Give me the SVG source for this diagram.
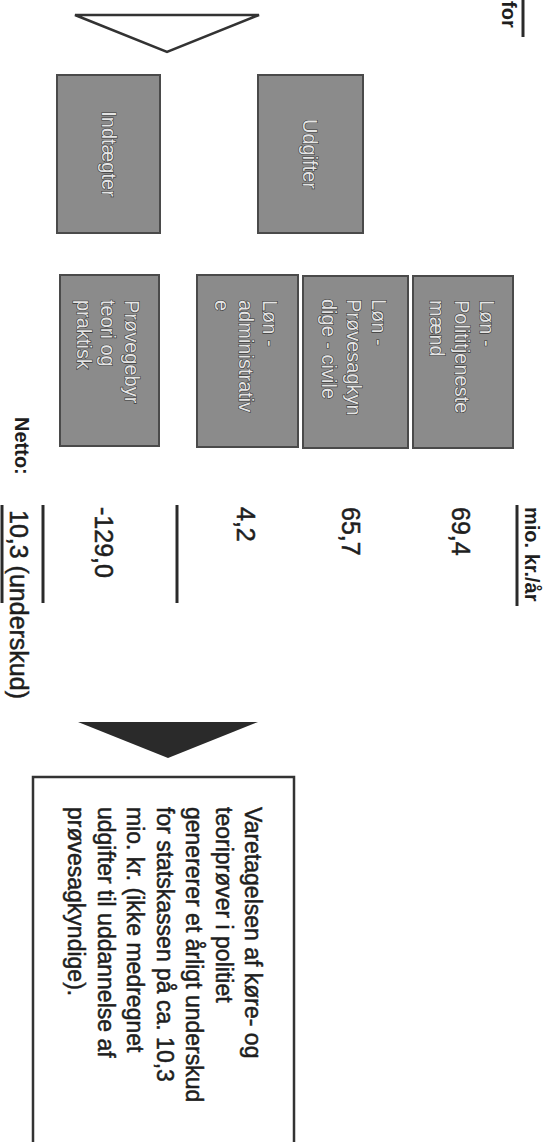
<svg xmlns="http://www.w3.org/2000/svg" width="550" height="1142" viewBox="0 0 550 1142">
<style>
  .box { fill: #8b8b8b; stroke: #4a4a4a; stroke-width: 2; }
  .bt { font-family: "Liberation Sans", Arial, sans-serif; font-size: 20px; fill: #e4e4e4; stroke: #3a3a3a; stroke-width: 1.2; paint-order: stroke; }
  .num { font-family: "Liberation Sans", Arial, sans-serif; font-size: 25px; fill: #1e1e1e; stroke: #1e1e1e; stroke-width: 0.5; }
  .lbl { font-family: "Liberation Sans", Arial, sans-serif; font-size: 20px; font-weight: bold; fill: #1e1e1e; }
  .note { font-family: "Liberation Sans", Arial, sans-serif; font-size: 23px; fill: #1e1e1e; stroke: #1e1e1e; stroke-width: 0.5; }
  .rule { stroke: #2a2a2a; stroke-width: 3; fill: none; }
</style>
<rect width="550" height="1142" fill="#ffffff"/>

<g id="header">
  <text class="lbl" font-size="18" transform="translate(502,1) rotate(90)">for</text>
  <line class="rule" x1="523" y1="0" x2="523" y2="37"/>
</g>

<g id="connectors">
  <polygon points="75,15 259,15 167,52" fill="#ffffff" stroke="#333333" stroke-width="2.5" stroke-linejoin="miter"/>
  <polygon points="78,722 258,722 168,758" fill="#2a2a2a"/>
</g>

<g id="node-indtaegter">
  <rect class="box" x="57" y="75" width="103" height="158"/>
  <text class="bt" transform="translate(102,154) rotate(90)" text-anchor="middle">Indtægter</text>
</g>

<g id="node-udgifter">
  <rect class="box" x="258" y="75" width="105" height="158"/>
  <text class="bt" transform="translate(303,154) rotate(90)" text-anchor="middle">Udgifter</text>
</g>

<g id="node-provegebyr">
  <rect class="box" x="60" y="275" width="99" height="171"/>
  <text class="bt" transform="translate(125,300) rotate(90)">Prøvegebyr</text>
  <text class="bt" transform="translate(101,300) rotate(90)">teori og</text>
  <text class="bt" transform="translate(77,300) rotate(90)">praktisk</text>
</g>

<g id="node-lon-admin">
  <rect class="box" x="197" y="275" width="101" height="172"/>
  <text class="bt" transform="translate(263,300) rotate(90)">Løn -</text>
  <text class="bt" transform="translate(239,300) rotate(90)">administrativ</text>
  <text class="bt" transform="translate(215,300) rotate(90)">e</text>
</g>

<g id="node-lon-provesagkyndige">
  <rect class="box" x="303" y="276" width="105" height="172"/>
  <text class="bt" transform="translate(372,299) rotate(90)">Løn -</text>
  <text class="bt" transform="translate(347,299) rotate(90)">Prøvesagkyn</text>
  <text class="bt" transform="translate(322,299) rotate(90)">dige - civile</text>
</g>

<g id="node-lon-politi">
  <rect class="box" x="413" y="276" width="100" height="172"/>
  <text class="bt" transform="translate(480,300) rotate(90)">Løn -</text>
  <text class="bt" transform="translate(455,300) rotate(90)">Polititjeneste</text>
  <text class="bt" transform="translate(430,300) rotate(90)">mænd</text>
</g>

<g id="values">
  <text class="lbl" transform="translate(525,507) rotate(90)">mio. kr./år</text>
  <line class="rule" x1="517" y1="505" x2="517" y2="606"/>
  <text class="num" transform="translate(452,507) rotate(90)">69,4</text>
  <text class="num" transform="translate(342,507) rotate(90)">65,7</text>
  <text class="num" transform="translate(237,507) rotate(90)">4,2</text>
  <line class="rule" x1="177" y1="505" x2="177" y2="603"/>
  <text class="num" transform="translate(95,507) rotate(90)">-129,0</text>
  <line class="rule" x1="43" y1="505" x2="43" y2="603"/>
  <text class="lbl" transform="translate(15,417) rotate(90)">Netto:</text>
  <text class="num" transform="translate(10,510) rotate(90)">10,3 (underskud)</text>
  <line class="rule" x1="2" y1="505" x2="2" y2="603"/>
</g>

<g id="node-conclusion">
  <rect x="33" y="777" width="261" height="420" fill="#ffffff" stroke="#333333" stroke-width="2.5"/>
  <text class="note" transform="translate(245,807) rotate(90)">Varetagelsen af køre- og</text>
  <text class="note" transform="translate(215.5,807) rotate(90)">teoriprøver i politiet</text>
  <text class="note" transform="translate(186,807) rotate(90)">genererer et årligt underskud</text>
  <text class="note" transform="translate(156.5,807) rotate(90)">for statskassen på ca. 10,3</text>
  <text class="note" transform="translate(127,807) rotate(90)">mio. kr. (ikke medregnet</text>
  <text class="note" transform="translate(97.5,807) rotate(90)">udgifter til uddannelse af</text>
  <text class="note" transform="translate(68,807) rotate(90)">prøvesagkyndige).</text>
</g>
</svg>
